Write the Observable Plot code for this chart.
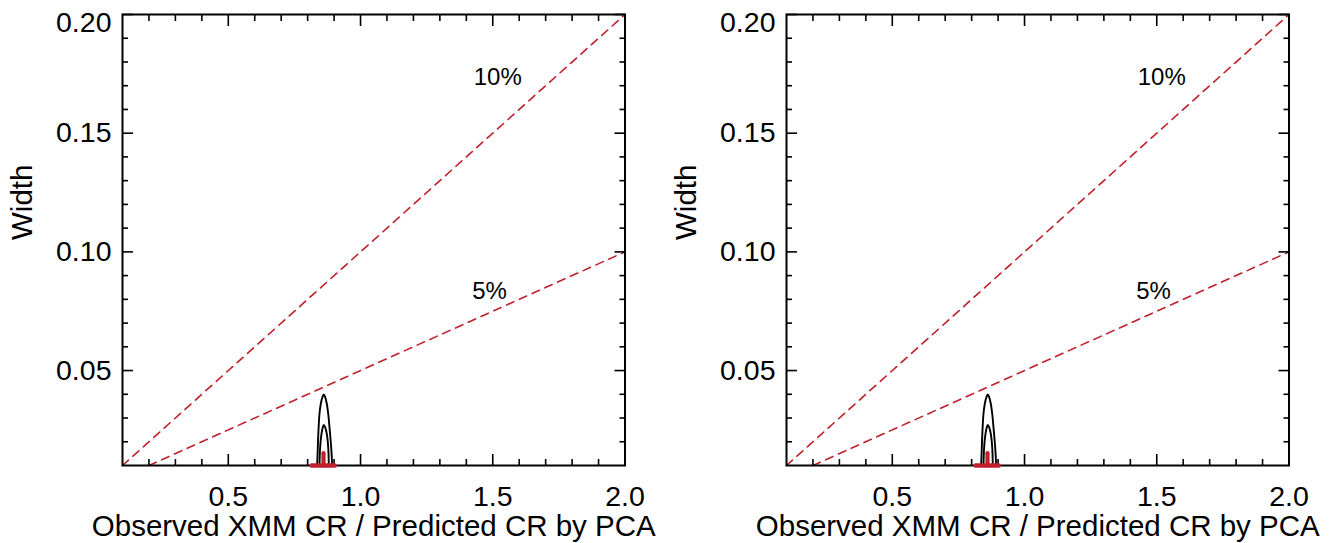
<!DOCTYPE html>
<html><head><meta charset="utf-8">
<script src="https://cdn.jsdelivr.net/npm/d3@7"></script>
<script src="https://cdn.jsdelivr.net/npm/@observablehq/plot@0.6"></script>
<style>
body{margin:0;background:#fff;}
#wrap{display:flex;width:1338px;height:543px;overflow:hidden;}
#wrap svg{font-family:"Liberation Sans",Arial,Helvetica,sans-serif;}
</style></head><body><div id="wrap"></div>
<script>
// ---- data ----
const xDomain = [0.1, 2.0];
const yDomain = [0.01, 0.20];
const xMajorTicks = [0.5, 1.0, 1.5, 2.0];
const xTickLabels = ["0.5", "1.0", "1.5", "2.0"];
const xMinorTicks = [0.2,0.3,0.4,0.6,0.7,0.8,0.9,1.1,1.2,1.3,1.4,1.6,1.7,1.8,1.9];
const yMajorTicks = [0.05, 0.10, 0.15, 0.20];
const yTickLabels = ["0.05", "0.10", "0.15", "0.20"];
const yMinorTicks = [0.02,0.03,0.04,0.06,0.07,0.08,0.09,0.11,0.12,0.13,0.14,0.16,0.17,0.18,0.19];
const xTitle = "Observed XMM CR / Predicted CR by PCA";
const yTitle = "Width";

// reference lines (width = 10% and 5% of ratio)
const line10X = [0.1, 2.0];
const line10Y = [0.01, 0.20];
const line5X = [0.2, 2.0];
const line5Y = [0.01, 0.10];
const refLabels = ["10%", "5%"];
const refLabelX = [1.428, 1.422];
const refLabelY = [0.1735, 0.0833];

// confidence contours (same in both panels)
const outerX = [0.836,0.8385,0.841,0.8448,0.8498,0.856,0.861,0.8664,0.8725,0.8778,0.8838,0.889,0.893];
const outerY = [0.0100,0.0177,0.0247,0.0318,0.0360,0.0388,0.0399,0.0388,0.0360,0.0318,0.0247,0.0177,0.0100];
const innerX = [0.8448,0.8473,0.8524,0.8574,0.861,0.8664,0.8725,0.8778,0.880];
const innerY = [0.0100,0.0177,0.0233,0.0261,0.0271,0.0261,0.0233,0.0177,0.0100];
const bestBarX = [0.815, 0.902];
const bestBarY = [0.01, 0.01];
const bestPeakX = [0.860, 0.860];
const bestPeakY = [0.01, 0.0152];

const RED = "#c0202b";
const pts = (xs, ys) => xs.map((x, i) => ({x, y: ys[i]}));

function panel(ml, mr) {
  const fmtX = d => xTickLabels[xMajorTicks.indexOf(d)];
  const fmtY = d => yTickLabels[yMajorTicks.indexOf(d)];
  return Plot.plot({
    width: 669, height: 543,
    marginLeft: ml, marginRight: mr, marginTop: 14, marginBottom: 78,
    x: {domain: xDomain},
    y: {domain: yDomain},
    style: {background: "white", color: "black", fontFamily: "'Liberation Sans', Arial, sans-serif", overflow: "visible"},
    marks: [
      Plot.line(pts(line10X, line10Y), {x: "x", y: "y", stroke: RED, strokeWidth: 1.6, strokeDasharray: "8,6"}),
      Plot.line(pts(line5X, line5Y), {x: "x", y: "y", stroke: RED, strokeWidth: 1.6, strokeDasharray: "8,6"}),
      Plot.text(refLabels.map((t, i) => ({t, x: refLabelX[i], y: refLabelY[i]})), {x: "x", y: "y", text: "t", textAnchor: "start", fontSize: 24, fill: "black"}),
      Plot.line(pts(outerX, outerY), {x: "x", y: "y", stroke: "black", strokeWidth: 1.9, curve: "catmull-rom"}),
      Plot.line(pts(innerX, innerY), {x: "x", y: "y", stroke: "black", strokeWidth: 1.9, curve: "catmull-rom"}),
      Plot.frame({stroke: "black", strokeWidth: 2}),
      // inward ticks, all four sides
      Plot.axisX({anchor: "bottom", ticks: xMajorTicks, tickSize: 11, dy: -11, fill: "none", label: null, strokeWidth: 1.6}),
      Plot.axisX({anchor: "bottom", ticks: xMinorTicks, tickSize: 6, dy: -6, fill: "none", label: null, strokeWidth: 1.6}),
      Plot.axisX({anchor: "top", ticks: xMajorTicks, tickSize: 11, dy: 11, fill: "none", label: null, strokeWidth: 1.6}),
      Plot.axisX({anchor: "top", ticks: xMinorTicks, tickSize: 6, dy: 6, fill: "none", label: null, strokeWidth: 1.6}),
      Plot.axisY({anchor: "left", ticks: yMajorTicks, tickSize: 11, dx: 11, fill: "none", label: null, strokeWidth: 1.6}),
      Plot.axisY({anchor: "left", ticks: yMinorTicks, tickSize: 6, dx: 6, fill: "none", label: null, strokeWidth: 1.6}),
      Plot.axisY({anchor: "right", ticks: yMajorTicks, tickSize: 11, dx: -11, fill: "none", label: null, strokeWidth: 1.6}),
      Plot.axisY({anchor: "right", ticks: yMinorTicks, tickSize: 6, dx: -6, fill: "none", label: null, strokeWidth: 1.6}),
      // best-fit marks drawn over the frame
      Plot.line(pts(bestBarX, bestBarY), {x: "x", y: "y", stroke: RED, strokeWidth: 4.6}),
      Plot.line(pts(bestPeakX, bestPeakY), {x: "x", y: "y", stroke: RED, strokeWidth: 4.2}),
      // tick labels
      Plot.axisX({anchor: "bottom", ticks: xMajorTicks, tickSize: 0, tickPadding: 20, tickFormat: fmtX, fontSize: 28.5, label: null}),
      Plot.axisY({anchor: "left", ticks: yMajorTicks.slice(0, 3), tickSize: 0, tickPadding: 11, tickFormat: fmtY, fontSize: 28.5, label: null}),
      Plot.axisY({anchor: "left", ticks: yMajorTicks.slice(3), tickSize: 0, tickPadding: 11, tickFormat: fmtY, fontSize: 28.5, label: null, dy: 8}),
      // titles
      Plot.text([xTitle], {frameAnchor: "bottom", dy: 70, lineAnchor: "bottom", fontSize: 29.5, fill: "black"}),
      Plot.text([yTitle], {frameAnchor: "left", dx: -100, rotate: -90, fontSize: 29.5, fill: "black"})
    ]
  });
}

const wrap = document.getElementById("wrap");
wrap.appendChild(panel(122, 44.5));
wrap.appendChild(panel(117, 49.5));
</script>
</body></html>
